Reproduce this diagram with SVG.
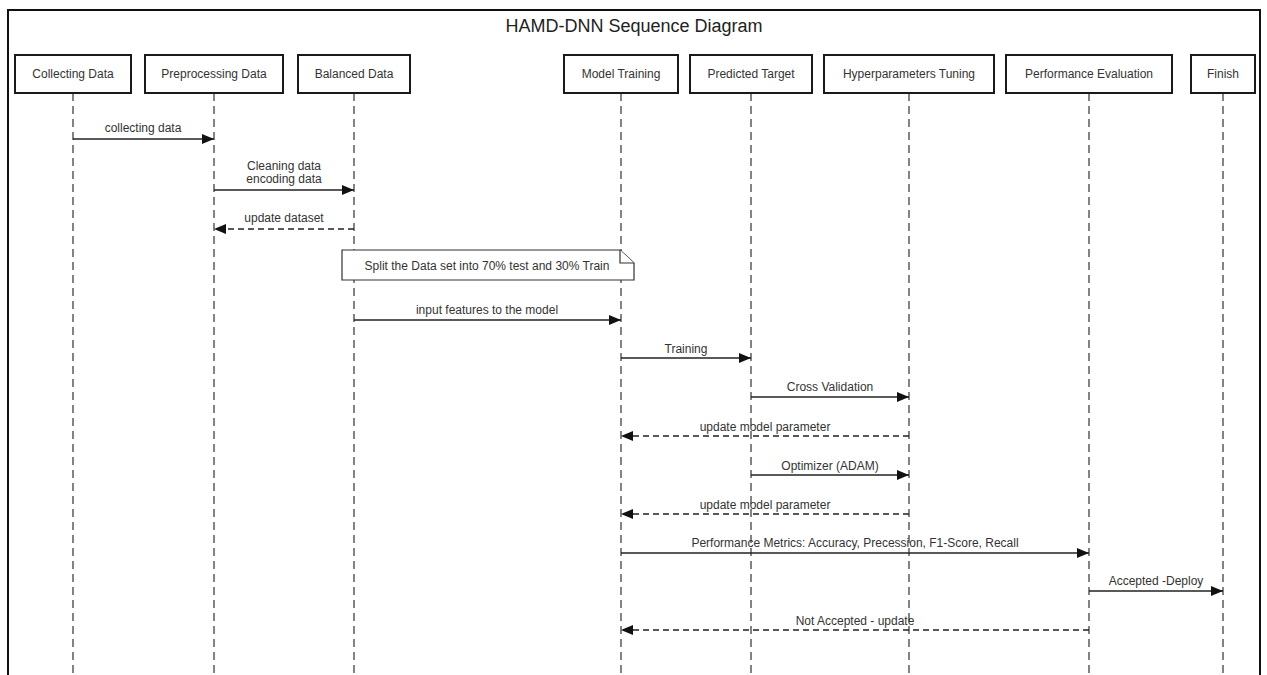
<svg xmlns="http://www.w3.org/2000/svg" width="1267" height="675" viewBox="0 0 1267 675">
  <style>
    .frame { fill: #ffffff; stroke: #111111; stroke-width: 2; }
    .actor rect { fill: #ffffff; stroke: #1a1a1a; stroke-width: 2; }
    .actor text, .lbl, .note text { font-family: "Liberation Sans", Arial, sans-serif; font-size: 12px; fill: #333333; text-anchor: middle; }
    .title { font-family: "Liberation Sans", Arial, sans-serif; font-size: 18px; fill: #222222; text-anchor: middle; }
    .life { stroke: #333333; stroke-width: 1.2; stroke-dasharray: 8 5; fill: none; }
    .msg { stroke: #222222; stroke-width: 1.3; fill: none; marker-end: url(#head); }
    .reply { stroke: #222222; stroke-width: 1.3; fill: none; stroke-dasharray: 6 4; marker-end: url(#head); }
    .note path { fill: #ffffff; stroke: #333333; stroke-width: 1.2; }
  </style>
  <defs>
    <marker id="head" markerUnits="userSpaceOnUse" markerWidth="13" markerHeight="11" refX="12" refY="5" orient="auto">
      <path d="M0,0 L12,5 L0,10 Z" fill="#111111"/>
    </marker>
  </defs>

  <rect x="0" y="0" width="1267" height="675" fill="#ffffff"/>
  <!-- diagram frame, open at the bottom edge -->
  <path class="frame" d="M8,690 L8,10 L1260,10 L1260,690"/>
  <text class="title" x="634" y="32">HAMD-DNN Sequence Diagram</text>

  <!-- lifelines -->
  <g id="lifelines">
    <line class="life" x1="73" y1="93" x2="73" y2="675"/>
    <line class="life" x1="214" y1="93" x2="214" y2="675"/>
    <line class="life" x1="354" y1="93" x2="354" y2="675"/>
    <line class="life" x1="621" y1="93" x2="621" y2="675"/>
    <line class="life" x1="751" y1="93" x2="751" y2="675"/>
    <line class="life" x1="909" y1="93" x2="909" y2="675"/>
    <line class="life" x1="1089" y1="93" x2="1089" y2="675"/>
    <line class="life" x1="1223" y1="93" x2="1223" y2="675"/>
  </g>

  <!-- participants -->
  <g id="collecting-data" class="actor">
    <rect x="15" y="55" width="116" height="38"/>
    <text x="73" y="78">Collecting Data</text>
  </g>
  <g id="preprocessing-data" class="actor">
    <rect x="145" y="55" width="138" height="38"/>
    <text x="214" y="78">Preprocessing Data</text>
  </g>
  <g id="balanced-data" class="actor">
    <rect x="298" y="55" width="112" height="38"/>
    <text x="354" y="78">Balanced Data</text>
  </g>
  <g id="model-training" class="actor">
    <rect x="564" y="55" width="114" height="38"/>
    <text x="621" y="78">Model Training</text>
  </g>
  <g id="predicted-target" class="actor">
    <rect x="690" y="55" width="122" height="38"/>
    <text x="751" y="78">Predicted Target</text>
  </g>
  <g id="hyperparameters-tuning" class="actor">
    <rect x="824" y="55" width="170" height="38"/>
    <text x="909" y="78">Hyperparameters Tuning</text>
  </g>
  <g id="performance-evaluation" class="actor">
    <rect x="1006" y="55" width="166" height="38"/>
    <text x="1089" y="78">Performance Evaluation</text>
  </g>
  <g id="finish" class="actor">
    <rect x="1191" y="55" width="64" height="38"/>
    <text x="1223" y="78">Finish</text>
  </g>

  <!-- note over Balanced Data .. Model Training -->
  <g id="split-note" class="note">
    <path d="M342,250 L620,250 L634,263 L634,280 L342,280 Z"/>
    <path d="M620,250 L620,263 L634,263"/>
    <text x="487" y="270">Split the Data set into 70% test and 30% Train</text>
  </g>

  <!-- messages -->
  <g id="messages">
    <line class="msg" x1="73" y1="139" x2="214" y2="139"/>
    <text class="lbl" x="143" y="132">collecting data</text>

    <line class="msg" x1="214" y1="190" x2="354" y2="190"/>
    <text class="lbl" x="284" y="170">Cleaning data</text>
    <text class="lbl" x="284" y="183">encoding data</text>

    <line class="reply" x1="354" y1="229" x2="214" y2="229"/>
    <text class="lbl" x="284" y="222">update dataset</text>

    <line class="msg" x1="354" y1="320" x2="621" y2="320"/>
    <text class="lbl" x="487" y="314">input features to the model</text>

    <line class="msg" x1="621" y1="358" x2="751" y2="358"/>
    <text class="lbl" x="686" y="353">Training</text>

    <line class="msg" x1="751" y1="397" x2="909" y2="397"/>
    <text class="lbl" x="830" y="391">Cross Validation</text>

    <line class="reply" x1="909" y1="436" x2="621" y2="436"/>
    <text class="lbl" x="765" y="431">update model parameter</text>

    <line class="msg" x1="751" y1="475" x2="909" y2="475"/>
    <text class="lbl" x="830" y="470">Optimizer (ADAM)</text>

    <line class="reply" x1="909" y1="514" x2="621" y2="514"/>
    <text class="lbl" x="765" y="509">update model parameter</text>

    <line class="msg" x1="621" y1="553" x2="1089" y2="553"/>
    <text class="lbl" x="855" y="547">Performance Metrics: Accuracy, Precession, F1-Score, Recall</text>

    <line class="msg" x1="1089" y1="591" x2="1223" y2="591"/>
    <text class="lbl" x="1156" y="585">Accepted -Deploy</text>

    <line class="reply" x1="1089" y1="630" x2="621" y2="630"/>
    <text class="lbl" x="855" y="625">Not Accepted - update</text>
  </g>
</svg>
